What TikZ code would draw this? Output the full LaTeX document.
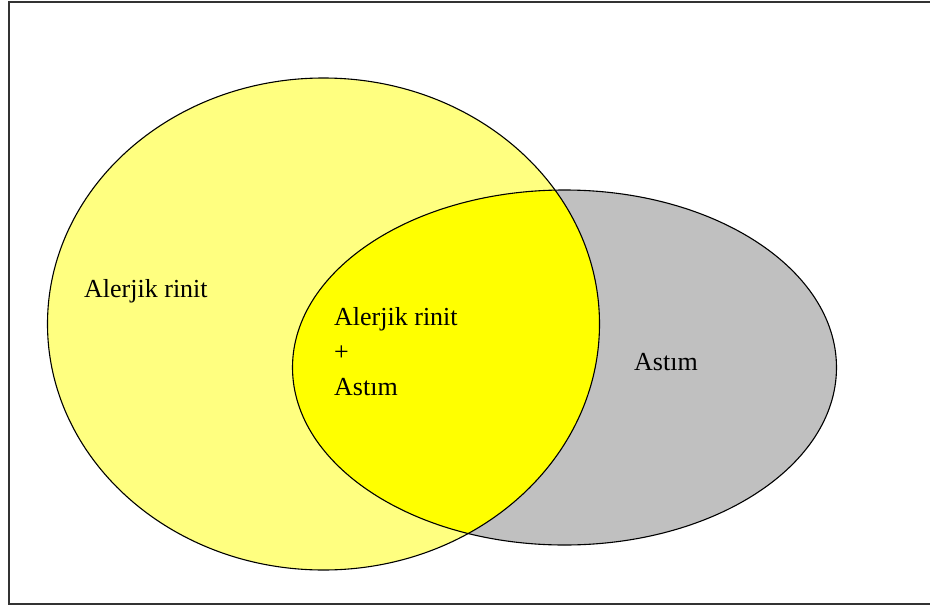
\documentclass[tikz,border=0pt]{standalone}
\usepackage{fontspec}
\setmainfont{Liberation Serif}
\definecolor{lightyel}{HTML}{FFFF80}
\definecolor{brightyel}{HTML}{FFFF00}
\definecolor{greyfill}{HTML}{C0C0C0}
\tikzset{
  outline/.style={draw=black, line width=1.1pt},
  label/.style={font=\fontsize{26}{35}\selectfont, inner sep=0pt, anchor=base west, align=left},
}
\begin{document}
\begin{tikzpicture}[x=1pt, y=-1pt]
\useasboundingbox (0,0) rectangle (930,608);
\fill[white] (0,0) rectangle (930,608);
\draw[line width=2pt, black!80] (8.5,1.5) rectangle (940,604);
% fills
\fill[lightyel] (323.5,324) ellipse [x radius=276, y radius=246];
\fill[greyfill] (564.5,367.5) ellipse [x radius=272, y radius=177.5];
\begin{scope}
  \clip (323.5,324) ellipse [x radius=276, y radius=246];
  \fill[brightyel] (564.5,367.5) ellipse [x radius=272, y radius=177.5];
\end{scope}
% outlines
\draw[outline] (323.5,324) ellipse [x radius=276, y radius=246];
\draw[outline] (564.5,367.5) ellipse [x radius=272, y radius=177.5];
% labels
\node[label] (ar) at (84,297) {Alerjik rinit};
\node[label] (both) at (334,395) {Alerjik rinit\\+\\Astım};
\node[label] (as) at (634,370) {Astım};
\end{tikzpicture}
\end{document}
